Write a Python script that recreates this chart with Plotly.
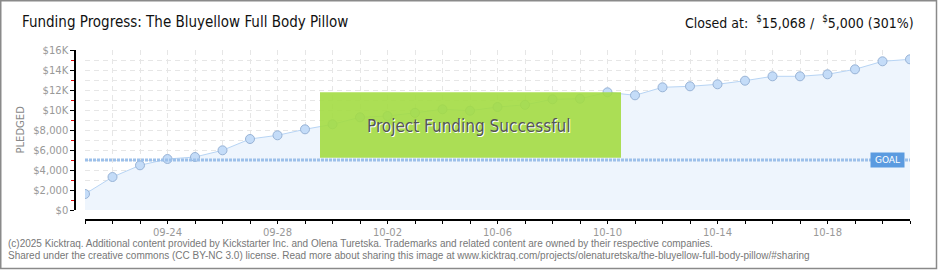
import plotly.graph_objects as go
import pandas as pd

# ---- data ----
dates = pd.date_range("2025-09-21", "2025-10-21", freq="D").strftime("%Y-%m-%d").tolist()
pledged = [1600, 3300, 4470, 5100, 5300, 5970, 7100, 7470, 8070, 8570,
           9270, 9400, 9720, 10070, 9930, 10300, 10520, 11070, 11130, 11770,
           11470, 12270, 12370, 12570, 12930, 13370, 13370, 13570, 14070, 14870,
           15068]
goal = 5000
x_label_dates = ["2025-09-24", "2025-09-28", "2025-10-02", "2025-10-06",
                 "2025-10-10", "2025-10-14", "2025-10-18"]
x_label_text = ["09-24", "09-28", "10-02", "10-06", "10-10", "10-14", "10-18"]
y_tick_vals = [0, 2000, 4000, 6000, 8000, 10000, 12000, 14000, 16000]
y_tick_text = ["$0", "$2,000", "$4,000", "$6,000", "$8,000", "$10K", "$12K", "$14K", "$16K"]
success_y = [5230, 11770]

W, H = 940, 270
ML, MR, MT, MB = 75, 30, 50, 50
PW = W - ML - MR
PH = H - MT - MB


def px_x(p):
    return (p - ML) / PW


def px_y(p):
    return (H - MB - p) / PH


fig = go.Figure()
fig.add_trace(go.Scatter(
    x=dates, y=pledged, mode="lines+markers",
    line=dict(color="#b7d4f4", width=1),
    fill="tozeroy", fillcolor="#eef5fd",
    marker=dict(size=9, color="#c4dcf8", line=dict(color="#98b3d6", width=1)),
    hoverinfo="x+y", showlegend=False,
))

tickfont = dict(family="DejaVu Sans, sans-serif", size=10, color="#999999")
grid_col = "#e6e6e6"
gdash = "5px,4px"

fig.update_layout(
    width=W, height=H,
    margin=dict(l=ML, r=MR, t=MT, b=MB),
    paper_bgcolor="white", plot_bgcolor="white",
    xaxis=dict(
        type="date", range=[dates[0], dates[-1]],
        domain=[px_x(85), 1], anchor="free", position=0,
        tickvals=x_label_dates, ticktext=x_label_text,
        showgrid=True, gridcolor=grid_col, griddash=gdash, gridwidth=1,
        showline=True, linecolor="black", linewidth=1.5,
        ticks="outside", ticklen=3, tickcolor="black", tickwidth=1,
        tickfont=tickfont, zeroline=False, fixedrange=True,
        minor=dict(dtick=86400000, tick0=dates[0], ticks="outside", ticklen=3,
                   tickcolor="black", tickwidth=1,
                   showgrid=True, gridcolor=grid_col, griddash=gdash),
    ),
    yaxis=dict(
        range=[0, 16000],
        domain=[px_y(210), 1], anchor="free", position=0,
        tickvals=y_tick_vals, ticktext=y_tick_text,
        showgrid=True, gridcolor=grid_col, griddash=gdash, gridwidth=1,
        showline=True, linecolor="black", linewidth=1.5,
        ticks="outside", ticklen=4, tickcolor="black", tickwidth=1,
        tickfont=tickfont, zeroline=False, fixedrange=True,
        minor=dict(dtick=1000, tick0=0, ticks="outside", ticklen=3,
                   tickcolor="#e00000", tickwidth=1,
                   showgrid=True, gridcolor=grid_col, griddash=gdash),
    ),
)

shapes = []
# goal line
shapes.append(dict(type="line", xref="x", yref="y", x0=dates[0], x1=dates[-1],
                   y0=goal, y1=goal, line=dict(color="#9cc0ea", width=3, dash="3px,1px"),
                   layer="above"))
# success box
shapes.append(dict(type="rect", xref="paper", yref="y", x0=px_x(320), x1=px_x(621),
                   y0=success_y[0], y1=success_y[1],
                   fillcolor="rgba(163,219,66,0.9)", line=dict(width=0), layer="above"))
# outer border
shapes.append(dict(type="rect", xref="paper", yref="paper",
                   x0=px_x(0.75), x1=px_x(936.5), y0=px_y(268.5), y1=px_y(0.75),
                   line=dict(color="#8a8a8a", width=1.5), fillcolor="rgba(0,0,0,0)"))
fig.update_layout(shapes=shapes)

head = "DejaVu Sans Condensed, DejaVu Sans, sans-serif"
annotations = [
    dict(text="Funding Progress: The Bluyellow Full Body Pillow", xref="paper", yref="paper",
         x=px_x(20), y=px_y(22), xanchor="left", yanchor="middle", showarrow=False,
         font=dict(family=head, size=15, color="#111111")),
    dict(text="Closed at:  <sup>$</sup>15,068 /  <sup>$</sup>5,000 (301%)", xref="paper", yref="paper",
         x=px_x(916), y=px_y(22), xanchor="right", yanchor="middle", showarrow=False,
         font=dict(family=head, size=14, color="#111111")),
    dict(text="PLEDGED", xref="paper", yref="paper", x=px_x(20), y=px_y(129.5),
         textangle=-90, showarrow=False, xanchor="center", yanchor="middle",
         font=dict(family="DejaVu Sans, sans-serif", size=10, color="#888888")),
    dict(text="GOAL", xref="paper", yref="y", x=px_x(887.5), y=goal, showarrow=False,
         xanchor="center", yanchor="middle", bgcolor="#5b9be0", width=31, height=12,
         borderpad=1, font=dict(family="DejaVu Sans, sans-serif", size=9, color="white")),
    dict(text="Project Funding Successful", xref="paper", yref="y", x=px_x(468.7), y=8400,
         showarrow=False, xanchor="center", yanchor="middle",
         font=dict(family=head, size=17, color="#555555", shadow="1px 1px 0px white")),
    dict(text="(c)2025 Kicktraq. Additional content provided by Kickstarter Inc. and Olena Turetska. "
              "Trademarks and related content are owned by their respective companies.",
         xref="paper", yref="paper", x=px_x(6), y=px_y(243), xanchor="left", yanchor="middle",
         showarrow=False, font=dict(family="Liberation Sans, Arial, sans-serif", size=10, color="#777777")),
    dict(text="Shared under the creative commons (CC BY-NC 3.0) license. Read more about sharing this image at "
              "www.kicktraq.com/projects/olenaturetska/the-bluyellow-full-body-pillow/#sharing",
         xref="paper", yref="paper", x=px_x(6), y=px_y(256), xanchor="left", yanchor="middle",
         showarrow=False, font=dict(family="Liberation Sans, Arial, sans-serif", size=10, color="#777777")),
]
fig.update_layout(annotations=annotations)

fig.write_html("out.html")
